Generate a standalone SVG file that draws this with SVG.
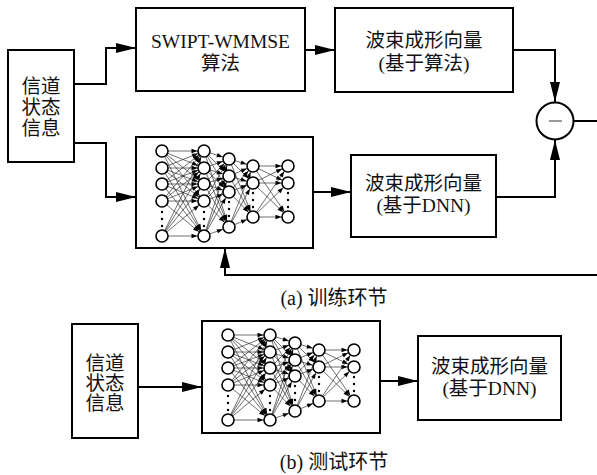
<svg xmlns="http://www.w3.org/2000/svg" width="597" height="475" viewBox="0 0 597 475">
<style>
.box{fill:#fff;stroke:#000;stroke-width:2}
.conn{fill:none;stroke:#000;stroke-width:2}
.t{font-family:"Liberation Serif","Noto Sans CJK SC",serif;font-size:19.5px;fill:#111;text-anchor:middle}
.cap{font-family:"Liberation Serif","Noto Sans CJK SC",serif;font-size:20px;fill:#111;text-anchor:middle}
.w{stroke:#222;stroke-width:0.65;marker-end:url(#sa)}
.n{fill:#fff;stroke:#000;stroke-width:1.6}
.d{fill:#000}
</style>
<defs>
<marker id="ba" markerUnits="userSpaceOnUse" markerWidth="20" markerHeight="10" refX="20" refY="5" orient="auto" overflow="visible"><path d="M0,0 L20,5 L0,10 z" fill="#000"/></marker>
<marker id="sa" markerUnits="userSpaceOnUse" markerWidth="6" markerHeight="4.4" refX="12.5" refY="2.2" orient="auto" overflow="visible"><path d="M0,0 L6,2.2 L0,4.4 z" fill="#000"/></marker>
<g id="net">
<g>
<line class="w" x1="26" y1="14" x2="68" y2="14"/><line class="w" x1="26" y1="14" x2="68" y2="31"/><line class="w" x1="26" y1="14" x2="68" y2="47"/><line class="w" x1="26" y1="14" x2="68" y2="64"/><line class="w" x1="26" y1="14" x2="68" y2="99"/>
<line class="w" x1="26" y1="31" x2="68" y2="14"/><line class="w" x1="26" y1="31" x2="68" y2="31"/><line class="w" x1="26" y1="31" x2="68" y2="47"/><line class="w" x1="26" y1="31" x2="68" y2="64"/><line class="w" x1="26" y1="31" x2="68" y2="99"/>
<line class="w" x1="26" y1="47" x2="68" y2="14"/><line class="w" x1="26" y1="47" x2="68" y2="31"/><line class="w" x1="26" y1="47" x2="68" y2="47"/><line class="w" x1="26" y1="47" x2="68" y2="64"/><line class="w" x1="26" y1="47" x2="68" y2="99"/>
<line class="w" x1="26" y1="64" x2="68" y2="14"/><line class="w" x1="26" y1="64" x2="68" y2="31"/><line class="w" x1="26" y1="64" x2="68" y2="47"/><line class="w" x1="26" y1="64" x2="68" y2="64"/><line class="w" x1="26" y1="64" x2="68" y2="99"/>
<line class="w" x1="26" y1="99" x2="68" y2="14"/><line class="w" x1="26" y1="99" x2="68" y2="31"/><line class="w" x1="26" y1="99" x2="68" y2="47"/><line class="w" x1="26" y1="99" x2="68" y2="64"/><line class="w" x1="26" y1="99" x2="68" y2="99"/>
<line class="w" x1="68" y1="14" x2="93" y2="22"/><line class="w" x1="68" y1="14" x2="93" y2="39"/><line class="w" x1="68" y1="14" x2="93" y2="55"/><line class="w" x1="68" y1="14" x2="93" y2="90"/>
<line class="w" x1="68" y1="31" x2="93" y2="22"/><line class="w" x1="68" y1="31" x2="93" y2="39"/><line class="w" x1="68" y1="31" x2="93" y2="55"/><line class="w" x1="68" y1="31" x2="93" y2="90"/>
<line class="w" x1="68" y1="47" x2="93" y2="22"/><line class="w" x1="68" y1="47" x2="93" y2="39"/><line class="w" x1="68" y1="47" x2="93" y2="55"/><line class="w" x1="68" y1="47" x2="93" y2="90"/>
<line class="w" x1="68" y1="64" x2="93" y2="22"/><line class="w" x1="68" y1="64" x2="93" y2="39"/><line class="w" x1="68" y1="64" x2="93" y2="55"/><line class="w" x1="68" y1="64" x2="93" y2="90"/>
<line class="w" x1="68" y1="99" x2="93" y2="22"/><line class="w" x1="68" y1="99" x2="93" y2="39"/><line class="w" x1="68" y1="99" x2="93" y2="55"/><line class="w" x1="68" y1="99" x2="93" y2="90"/>
<line class="w" x1="93" y1="22" x2="117" y2="29"/><line class="w" x1="93" y1="22" x2="117" y2="46"/><line class="w" x1="93" y1="22" x2="117" y2="80"/>
<line class="w" x1="93" y1="39" x2="117" y2="29"/><line class="w" x1="93" y1="39" x2="117" y2="46"/><line class="w" x1="93" y1="39" x2="117" y2="80"/>
<line class="w" x1="93" y1="55" x2="117" y2="29"/><line class="w" x1="93" y1="55" x2="117" y2="46"/><line class="w" x1="93" y1="55" x2="117" y2="80"/>
<line class="w" x1="93" y1="90" x2="117" y2="29"/><line class="w" x1="93" y1="90" x2="117" y2="46"/><line class="w" x1="93" y1="90" x2="117" y2="80"/>
<line class="w" x1="117" y1="29" x2="152" y2="29"/><line class="w" x1="117" y1="29" x2="152" y2="46"/><line class="w" x1="117" y1="29" x2="152" y2="80"/>
<line class="w" x1="117" y1="46" x2="152" y2="29"/><line class="w" x1="117" y1="46" x2="152" y2="46"/><line class="w" x1="117" y1="46" x2="152" y2="80"/>
<line class="w" x1="117" y1="80" x2="152" y2="29"/><line class="w" x1="117" y1="80" x2="152" y2="46"/><line class="w" x1="117" y1="80" x2="152" y2="80"/>
</g>
<g>
<circle class="n" cx="26" cy="14" r="6"/><circle class="n" cx="26" cy="31" r="6"/><circle class="n" cx="26" cy="47" r="6"/><circle class="n" cx="26" cy="64" r="6"/><circle class="n" cx="26" cy="99" r="6"/>
<circle class="n" cx="68" cy="14" r="6"/><circle class="n" cx="68" cy="31" r="6"/><circle class="n" cx="68" cy="47" r="6"/><circle class="n" cx="68" cy="64" r="6"/><circle class="n" cx="68" cy="99" r="6"/>
<circle class="n" cx="93" cy="22" r="6"/><circle class="n" cx="93" cy="39" r="6"/><circle class="n" cx="93" cy="55" r="6"/><circle class="n" cx="93" cy="90" r="6"/>
<circle class="n" cx="117" cy="29" r="6"/><circle class="n" cx="117" cy="46" r="6"/><circle class="n" cx="117" cy="80" r="6"/>
<circle class="n" cx="152" cy="29" r="6"/><circle class="n" cx="152" cy="46" r="6"/><circle class="n" cx="152" cy="80" r="6"/>
</g>
<g class="d">
<circle cx="26" cy="75" r="1.2"/><circle cx="26" cy="82" r="1.2"/><circle cx="26" cy="89" r="1.2"/>
<circle cx="68" cy="75" r="1.2"/><circle cx="68" cy="82" r="1.2"/><circle cx="68" cy="89" r="1.2"/>
<circle cx="93" cy="65" r="1.2"/><circle cx="93" cy="72" r="1.2"/><circle cx="93" cy="79" r="1.2"/>
<circle cx="117" cy="56" r="1.2"/><circle cx="117" cy="63" r="1.2"/><circle cx="117" cy="70" r="1.2"/>
<circle cx="152" cy="56" r="1.2"/><circle cx="152" cy="63" r="1.2"/><circle cx="152" cy="70" r="1.2"/>
</g>
</g>
</defs>
<rect width="597" height="475" fill="#fff"/>
<g id="connectors">
<path class="conn" d="M74,84 H106 V48 H136" marker-end="url(#ba)"/>
<path class="conn" d="M74,143 H106 V197 H136" marker-end="url(#ba)"/>
<path class="conn" d="M305,50 H335" marker-end="url(#ba)"/>
<path class="conn" d="M513,50 H555 V102" marker-end="url(#ba)"/>
<path class="conn" d="M496,197 H555 V140" marker-end="url(#ba)"/>
<path class="conn" d="M574,121 H600 V275 H225 V248" marker-end="url(#ba)"/>
<path class="conn" d="M313,192 H351" marker-end="url(#ba)"/>
<path class="conn" d="M138,387 H202" marker-end="url(#ba)"/>
<path class="conn" d="M380,381 H418" marker-end="url(#ba)"/>
</g>
<g id="csi-a">
<rect class="box" x="8" y="50" width="66" height="112"/>
<text class="t" x="41" y="93">信道</text>
<text class="t" x="41" y="114">状态</text>
<text class="t" x="41" y="135">信息</text>
</g>
<g id="swipt">
<rect class="box" x="136" y="8" width="169" height="83"/>
<text class="t" x="220.5" y="48">SWIPT-WMMSE</text>
<text class="t" x="220.5" y="70">算法</text>
</g>
<g id="beam-alg">
<rect class="box" x="335" y="8" width="178" height="84"/>
<text class="t" x="424" y="47">波束成形向量</text>
<text class="t" x="424" y="70">(基于算法)</text>
</g>
<g id="sub">
<circle cx="555" cy="121" r="18.5" fill="#fff" stroke="#000" stroke-width="2"/>
<line x1="549" y1="121" x2="562" y2="121" stroke="#555" stroke-width="1.2"/>
</g>
<g id="dnn-a">
<rect class="box" x="136" y="137" width="177" height="111"/>
<use href="#net" x="136" y="137"/>
</g>
<g id="beam-dnn-a">
<rect class="box" x="351" y="155" width="145" height="82"/>
<text class="t" x="423.5" y="190">波束成形向量</text>
<text class="t" x="423.5" y="212">(基于DNN)</text>
</g>
<text class="cap" x="334" y="305">(a) 训练环节</text>
<g id="csi-b">
<rect class="box" x="72" y="324" width="66" height="114"/>
<text class="t" x="105" y="370">信道</text>
<text class="t" x="105" y="390">状态</text>
<text class="t" x="105" y="410">信息</text>
</g>
<g id="dnn-b">
<rect class="box" x="202" y="321" width="178" height="112"/>
<use href="#net" x="202" y="321"/>
</g>
<g id="beam-dnn-b">
<rect class="box" x="418" y="336" width="143" height="84"/>
<text class="t" x="489.5" y="373">波束成形向量</text>
<text class="t" x="489.5" y="395">(基于DNN)</text>
</g>
<text class="cap" x="334" y="469">(b) 测试环节</text>
</svg>
